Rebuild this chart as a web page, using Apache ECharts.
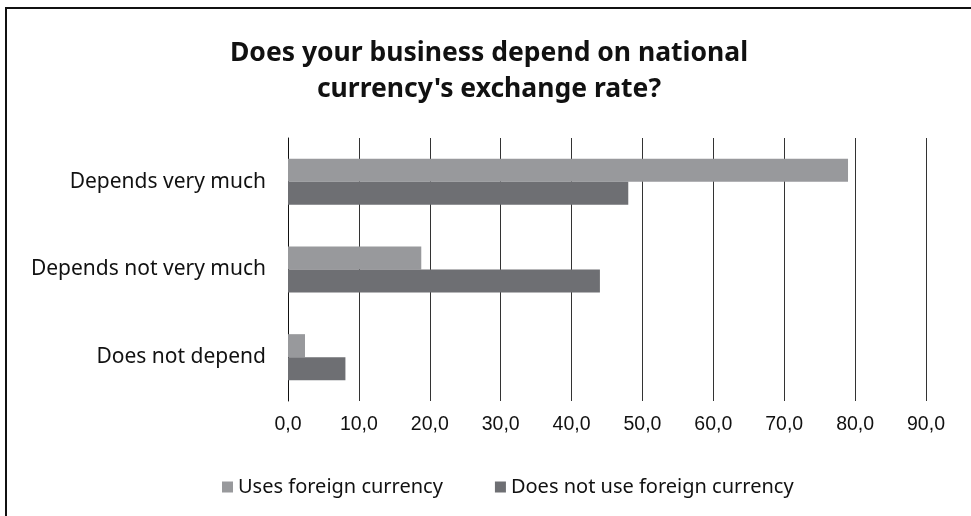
<!DOCTYPE html>
<html>
<head>
<meta charset="utf-8">
<script src="https://cdn.jsdelivr.net/npm/echarts@6/dist/echarts.min.js"></script>
<style>
    html, body { margin: 0; padding: 0; background: #fff; }
    #chart { width: 971px; height: 516px; }
</style>
</head>
<body>
<div id="chart"></div>
<script>
var categories = ['Depends very much', 'Depends not very much', 'Does not depend'];
var usesForeign = [79.0, 18.8, 2.4];
var notUseForeign = [48.0, 44.0, 8.1];
var seriesNames = ['Uses foreign currency', 'Does not use foreign currency'];

var dom = document.getElementById('chart');
var myChart = echarts.init(dom);
var option = {
    animation: false,
    title: {
        text: 'Does your business depend on national\ncurrency\'s exchange rate?',
        left: 484,
        textAlign: 'center',
        top: 30,
        textStyle: {
            fontFamily: 'Noto Sans',
            fontWeight: 'bold',
            fontSize: 26.5,
            lineHeight: 36,
            color: '#111'
        }
    },
    graphic: [
        {
            type: 'polyline',
            shape: { points: [[6, 516], [6, 8], [971, 8]] },
            style: { stroke: '#111', lineWidth: 2, fill: null }
        }
    ],
    legend: {
        data: seriesNames,
        left: 217,
        top: 472,
        icon: 'rect',
        itemWidth: 11,
        itemHeight: 11,
        itemGap: 52,
        textStyle: {
            fontFamily: 'Noto Sans',
            fontSize: 20,
            color: '#111'
        }
    },
    grid: {
        left: 288,
        right: 45,
        top: 138,
        bottom: 115
    },
    xAxis: {
        type: 'value',
        min: 0,
        max: 90,
        interval: 10,
        axisLine: { show: false },
        axisTick: { show: false },
        splitLine: { lineStyle: { color: '#333', width: 1 } },
        axisLabel: {
            margin: 14,
            fontFamily: 'Liberation Sans',
            fontSize: 19.5,
            color: '#111',
            formatter: function (v) {
                return v.toFixed(1).replace('.', ',');
            }
        }
    },
    yAxis: {
        type: 'category',
        inverse: true,
        data: categories,
        axisLine: { lineStyle: { color: '#111', width: 1 } },
        axisTick: { show: false },
        axisLabel: {
            margin: 22,
            fontFamily: 'Noto Sans',
            fontSize: 21,
            color: '#111'
        }
    },
    series: [
        {
            name: seriesNames[0],
            type: 'bar',
            data: usesForeign,
            barWidth: 23,
            barGap: '0%',
            itemStyle: { color: '#98999c' }
        },
        {
            name: seriesNames[1],
            type: 'bar',
            data: notUseForeign,
            barWidth: 23,
            barGap: '0%',
            itemStyle: { color: '#6e6f73' }
        }
    ]
};
myChart.setOption(option, true);
</script>
</body>
</html>
